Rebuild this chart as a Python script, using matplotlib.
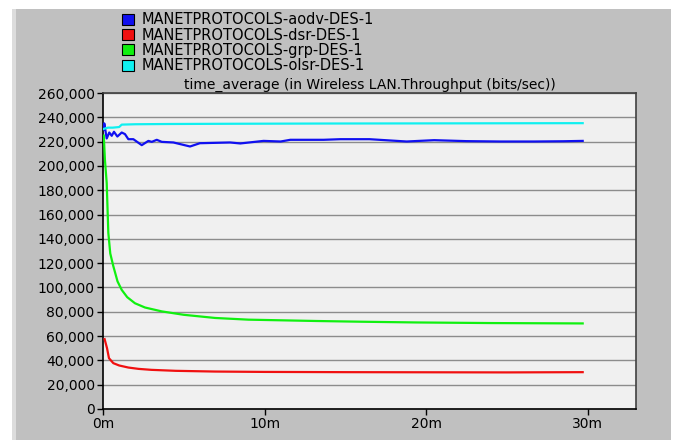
import matplotlib
matplotlib.use("Agg")
import matplotlib.pyplot as plt
from matplotlib.patches import Patch, Rectangle
from matplotlib.ticker import FuncFormatter, MultipleLocator

# data (time in minutes, throughput in bits/sec)
aodv_t = [0.05, 0.08, 0.23, 0.39, 0.54, 0.68, 0.89, 1.16, 1.36, 1.57, 1.88, 2.40, 2.81,
          3.02, 3.33, 3.64, 4.36, 5.39, 6.0, 7.87, 8.5, 9.94, 11.0, 11.6, 13.66, 14.7,
          16.5, 18.8, 20.5, 22.5, 24.6, 26.7, 28.5, 29.7]
aodv_v = [230000, 235000, 222600, 227500, 224800, 228100, 224200, 227500, 226200, 222000,
          222000, 217100, 220600, 219800, 221500, 219800, 219300, 216000, 218700, 219300,
          218500, 220600, 220100, 221500, 221500, 222000, 222000, 220100, 221200, 220400,
          220100, 220100, 220300, 220600]

dsr_t = [0.1, 0.25, 0.37, 0.64, 1.0, 1.57, 2.2, 3.0, 4.5, 6.94, 10, 15, 20, 25, 29.7]
dsr_v = [57500, 50000, 41800, 37700, 35800, 34100, 33000, 32200, 31400, 30800, 30500,
         30300, 30200, 30100, 30300]

grp_t = [0.05, 0.12, 0.23, 0.33, 0.45, 0.64, 0.9, 1.16, 1.5, 1.98, 2.6, 3.64, 5.0, 6.94,
         9.0, 13.2, 16.0, 19.4, 24.0, 29.7]
grp_v = [225000, 205000, 186000, 145000, 128000, 117500, 105000, 98000, 92000, 87000,
         83500, 80300, 77500, 74900, 73500, 72400, 71800, 71200, 70700, 70400]

olsr_t = [0.05, 0.3, 0.6, 1.0, 1.16, 2.0, 4.0, 8.0, 14.0, 20.0, 25.0, 29.7]
olsr_v = [230500, 231500, 231500, 232000, 234000, 234300, 234500, 234700, 234900,
          235000, 235100, 235200]

labels = ["MANETPROTOCOLS-aodv-DES-1", "MANETPROTOCOLS-dsr-DES-1",
          "MANETPROTOCOLS-grp-DES-1", "MANETPROTOCOLS-olsr-DES-1"]
colors = ["#1010f0", "#f01010", "#10f010", "#10f0f0"]

plt.rcParams['font.family'] = ['DejaVu Sans']

fig = plt.figure(figsize=(6.74, 4.4), dpi=100, facecolor="#c0c0c0")

# window-ish borders
fig.patches.append(Rectangle((0, 0.98), 1, 0.02, transform=fig.transFigure,
                             facecolor="white", edgecolor="none", zorder=-1))
fig.patches.append(Rectangle((0, 0), 0.018, 1, transform=fig.transFigure,
                             facecolor="white", edgecolor="none", zorder=-1))
fig.patches.append(Rectangle((0.018, 0), 0.006, 0.98, transform=fig.transFigure,
                             facecolor="#dcdcdc", edgecolor="none", zorder=-1))
fig.patches.append(Rectangle((0.995, 0), 0.005, 1, transform=fig.transFigure,
                             facecolor="white", edgecolor="none", zorder=-1))

ax = fig.add_axes([0.1528, 0.0705, 0.7908, 0.7181])
ax.set_facecolor("#f0f0f0")

series = [(aodv_t, aodv_v), (dsr_t, dsr_v), (grp_t, grp_v), (olsr_t, olsr_v)]
for (t, v), c in zip(series, colors):
    ax.plot(t, v, color=c, lw=1.6, zorder=3)

ax.set_xlim(0, 33)
ax.set_ylim(0, 260000)
ax.yaxis.set_major_locator(MultipleLocator(20000))
ax.yaxis.set_major_formatter(FuncFormatter(lambda v, p: f"{int(v):,}"))
ax.set_xticks([0, 10, 20, 30])
ax.set_xticklabels(["0m", "10m", "20m", "30m"])
ax.grid(axis="y", color="#8c8c8c", lw=1.0)
ax.set_axisbelow(True)
ax.tick_params(axis="both", direction="out", length=4, width=1, colors="black",
               labelsize=10, pad=2)
for s in ["left", "bottom"]:
    ax.spines[s].set_color("black")
    ax.spines[s].set_linewidth(1.2)
for s in ["top", "right"]:
    ax.spines[s].set_color("#404040")
    ax.spines[s].set_linewidth(1.2)

ax.set_title("time_average (in Wireless LAN.Throughput (bits/sec))", fontsize=10, pad=3)

handles = [Patch(facecolor=c, edgecolor="black", lw=0.8) for c in colors]
fig.legend(handles, labels, loc="upper left", bbox_to_anchor=(0.181, 0.972),
           frameon=False, fontsize=10.5, handlelength=0.8, handleheight=0.8,
           handletextpad=0.55, labelspacing=0.02, borderpad=0, borderaxespad=0)

fig.savefig("out.png", dpi=100, facecolor=fig.get_facecolor())
